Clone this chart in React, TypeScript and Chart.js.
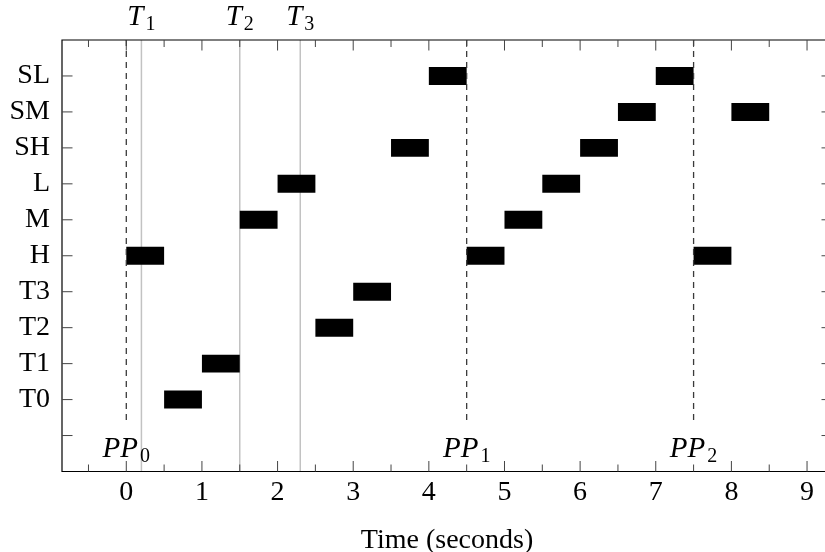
import { useEffect, useRef } from 'react';
import { Chart, registerables } from 'chart.js';

Chart.register(...registerables);

// ---- data ----
const rowLabels = ['', 'T0', 'T1', 'T2', 'T3', 'H', 'M', 'L', 'SH', 'SM', 'SL'];
const taskRows = ['H', 'T0', 'T1', 'M', 'L', 'T2', 'T3', 'SH', 'SL', 'H', 'M', 'L', 'SH', 'SM', 'SL', 'H', 'SM'];
const taskStart = [0, 0.5, 1, 1.5, 2, 2.5, 3, 3.5, 4, 4.5, 5, 5.5, 6, 6.5, 7, 7.5, 8];
const taskEnd = [0.5, 1, 1.5, 2, 2.5, 3, 3.5, 4, 4.5, 5, 5.5, 6, 6.5, 7, 7.5, 8, 8.5];
const xTickValues = [0, 1, 2, 3, 4, 5, 6, 7, 8, 9];
const xMinorTickValues = [-0.5, 0.5, 1.5, 2.5, 3.5, 4.5, 5.5, 6.5, 7.5, 8.5];
const xMin = -0.85;
const xMax = 9.33;
const yMin = -1;
const yMax = 11;
const phaseTimes = [0, 4.5, 7.5];
const phaseSubs = ['0', '1', '2'];
const phaseLineEnd = 0.35;
const phaseLabelY = -0.59;
const threadTimes = [0.2, 1.5, 2.3];
const threadSubs = ['1', '2', '3'];
const xTitle = 'Time (seconds)';

const FONT = '"Liberation Serif", "Times New Roman", serif';

function drawMath(ctx: CanvasRenderingContext2D, base: string, sub: string, cx: number, baseline: number) {
  ctx.save();
  ctx.fillStyle = '#000';
  ctx.textAlign = 'left';
  ctx.textBaseline = 'alphabetic';
  ctx.font = `italic 29px ${FONT}`;
  const wb = ctx.measureText(base).width;
  ctx.font = `20px ${FONT}`;
  const ws = ctx.measureText(sub).width;
  const gap = 2;
  const x0 = cx - (wb + gap + ws) / 2;
  ctx.font = `italic 29px ${FONT}`;
  ctx.fillText(base, x0, baseline);
  ctx.font = `20px ${FONT}`;
  ctx.fillText(sub, x0 + wb + gap, baseline + 5);
  ctx.restore();
}

const overlay = {
  id: 'overlay',
  beforeDatasetsDraw(chart: any) {
    const { ctx, chartArea, scales } = chart;
    const { top, bottom } = chartArea;
    ctx.save();
    ctx.strokeStyle = '#c2c2c2';
    ctx.lineWidth = 1.5;
    threadTimes.forEach((t) => {
      const px = scales.x.getPixelForValue(t);
      ctx.beginPath();
      ctx.moveTo(px, top);
      ctx.lineTo(px, bottom);
      ctx.stroke();
    });
    ctx.restore();
  },
  afterDatasetsDraw(chart: any) {
    const { ctx, chartArea, scales } = chart;
    const { top, bottom, left, right } = chartArea;
    const xs = scales.x;
    const ys = scales.y;
    ctx.save();
    // dashed phase lines
    ctx.strokeStyle = '#3a3a3a';
    ctx.lineWidth = 1.3;
    ctx.setLineDash([6, 5]);
    const yEnd = ys.getPixelForValue(phaseLineEnd);
    phaseTimes.forEach((t) => {
      const px = xs.getPixelForValue(t);
      ctx.beginPath();
      ctx.moveTo(px, top);
      ctx.lineTo(px, yEnd);
      ctx.stroke();
    });
    ctx.setLineDash([]);
    // frame
    ctx.strokeStyle = '#000';
    ctx.lineWidth = 1.2;
    ctx.beginPath();
    ctx.moveTo(right, top);
    ctx.lineTo(left, top);
    ctx.lineTo(left, bottom);
    ctx.lineTo(right, bottom);
    ctx.stroke();
    // tick marks
    ctx.strokeStyle = '#444';
    ctx.lineWidth = 1;
    const major = 10.5;
    const minor = 7;
    const vTick = (v: number, len: number) => {
      const px = xs.getPixelForValue(v);
      ctx.beginPath();
      ctx.moveTo(px, bottom);
      ctx.lineTo(px, bottom - len);
      ctx.moveTo(px, top);
      ctx.lineTo(px, top + len);
      ctx.stroke();
    };
    xTickValues.forEach((v) => vTick(v, major));
    xMinorTickValues.forEach((v) => vTick(v, minor));
    rowLabels.forEach((_, i) => {
      const py = ys.getPixelForValue(i);
      ctx.beginPath();
      ctx.moveTo(left, py);
      ctx.lineTo(left + major, py);
      ctx.moveTo(right, py);
      ctx.lineTo(right - major, py);
      ctx.stroke();
    });
    ctx.restore();
    // labels
    const pBase = ys.getPixelForValue(phaseLabelY);
    phaseTimes.forEach((t, i) => drawMath(ctx, 'PP', phaseSubs[i], xs.getPixelForValue(t), pBase));
    threadTimes.forEach((t, i) => drawMath(ctx, 'T', threadSubs[i], xs.getPixelForValue(t), top - 15));
  },
};

export default function App() {
  const ref = useRef<HTMLCanvasElement>(null);
  useEffect(() => {
    document.documentElement.style.overflow = 'hidden';
    document.body.style.margin = '0';
    document.body.style.overflow = 'hidden';
    const canvas = ref.current!;
    const chart = new Chart(canvas, {
      type: 'bar',
      data: {
        datasets: [
          {
            data: taskRows.map((r, i) => ({ x: [taskStart[i], taskEnd[i]], y: rowLabels.indexOf(r) })) as any,
            backgroundColor: '#000',
            borderWidth: 0,
            barPercentage: 0.5,
            categoryPercentage: 1,
          },
        ],
      },
      options: {
        animation: false,
        responsive: false,
        indexAxis: 'y',
        layout: { padding: { top: 40, left: 0, right: 0, bottom: 0 } },
        plugins: { legend: { display: false }, tooltip: { enabled: false } },
        scales: {
          x: {
            type: 'linear',
            min: xMin,
            max: xMax,
            offset: false,
            grid: { display: false, drawTicks: false },
            border: { display: false },
            afterBuildTicks: (s: any) => {
              s.ticks = xTickValues.map((v) => ({ value: v }));
            },
            afterFit: (s: any) => {
              s.height = 80.5;
            },
            ticks: {
              font: { family: FONT, size: 28 },
              color: '#000',
              padding: 4,
              maxRotation: 0,
              autoSkip: false,
              callback: (v: any) => String(v),
            },
            title: {
              display: true,
              text: xTitle,
              font: { family: FONT, size: 28 },
              color: '#000',
              padding: { top: 0, bottom: -5 },
            },
          },
          y: {
            type: 'linear',
            min: yMin,
            max: yMax,
            offset: false,
            grid: { display: false, drawTicks: false },
            border: { display: false },
            afterBuildTicks: (s: any) => {
              s.ticks = rowLabels.map((_, i) => ({ value: i }));
            },
            afterFit: (s: any) => {
              s.width = 62;
            },
            ticks: {
              font: { family: FONT, size: 28 },
              color: '#000',
              padding: 12,
              autoSkip: false,
              callback: (v: any) => rowLabels[v] ?? '',
            },
          },
        },
      },
      plugins: [overlay],
    } as any);
    return () => chart.destroy();
  }, []);
  return (
    <div style={{ width: 832, height: 552 }}>
      <canvas ref={ref} width={832} height={552} style={{ display: 'block', width: 832, height: 552 }} />
    </div>
  );
}
